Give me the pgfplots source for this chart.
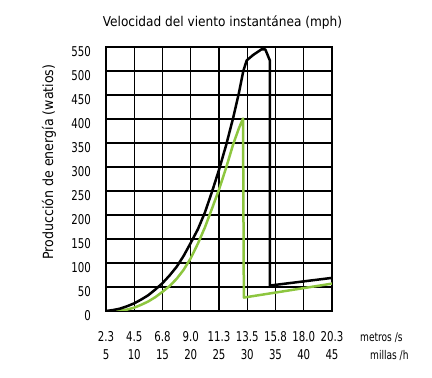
\documentclass[border=0pt]{standalone}
\usepackage{pgfplots}
\pgfplotsset{compat=1.18}
\usepackage{fontspec}
\setmainfont{DejaVu Sans Condensed}
\newfontfamily\tickfont[FakeStretch=0.84]{DejaVu Sans Condensed}
\definecolor{lgreen}{RGB}{141,198,63}
\begin{document}
\begin{tikzpicture}[x=1pt,y=1pt]
\useasboundingbox (0,0) rectangle (432,378);
\begin{axis}[at={(106pt,67pt)}, anchor=south west, scale only axis,
  width=226pt, height=264pt,
  xmin=5, xmax=45, ymin=0, ymax=550,
  xtick={5,10,...,45}, ytick={0,50,...,550},
  xticklabels={{2.3\\5},{4.5\\10},{6.8\\15},{9.0\\20},{11.3\\25},{13.5\\30},{15.8\\35},{18.0\\40},{20.3\\45}},
  xticklabel style={align=center, font=\tickfont\fontsize{13.5}{18}\selectfont, inner sep=0pt, anchor=north, yshift=-20pt},
  yticklabel style={font=\tickfont\fontsize{13.5}{15}\selectfont, anchor=east, inner sep=0pt, xshift=-15pt, yshift=-5pt},
  /pgf/number format/assume math mode=true,
  grid=major, major grid style={black, line width=1.2pt},
  axis line style={black, line width=1.3pt},
  major tick length=0pt,
]
\addplot[lgreen, line width=2.5pt, line join=round] coordinates {
(6.5,0)(7.5,1)(8.75,3)(10,7)(11.25,13)(12.5,20)(13.75,29)(15,40)(16.25,52)(17.5,67)(18.75,86)(20,110)(21.25,140)(22.5,174)(23.75,213)(25,253)(26.25,298)(27.5,347)(28.5,380)(29.25,401)(29.4,28)(45,57)};
\addplot[black, line width=2.5pt, line join=round] coordinates {
(5,0)(6.25,2)(7.5,5)(8.75,10)(10,16)(11.25,24)(12.5,33)(13.75,45)(15,58)(16.25,74)(17.5,92)(18.75,115)(20,142)(21.25,170)(22.5,205)(23.75,248)(25,294)(26.25,345)(27.5,402)(28.5,453)(29.3,500)(29.9,522)(31,533)(32.5,545)(33.2,545)(34,522)(34,53)(45,69)};
\end{axis}
\node[anchor=base, inner sep=0pt, font=\fontsize{13.5}{15}\selectfont] at (222.5,351.3) {Velocidad del viento instantánea (mph)};
\node[rotate=90, inner sep=0pt, font=\fontsize{14}{15}\selectfont] at (49,216) {Producción de energía (watios)};
\node[anchor=base west, inner sep=0pt, font=\tickfont\fontsize{12}{13}\selectfont] at (360,36.3) {metros /s};
\node[anchor=base west, inner sep=0pt, font=\tickfont\fontsize{12}{13}\selectfont] at (370,18) {millas /h};
\end{tikzpicture}
\end{document}
